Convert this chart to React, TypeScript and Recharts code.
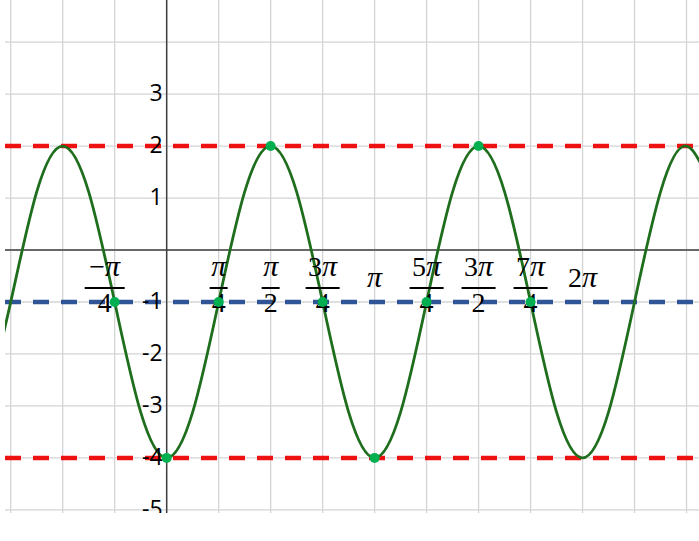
import React from "react";
import { ComposedChart, Line, Scatter, XAxis, YAxis } from "recharts";

// x values are in units of π/4
const xTicks = [-3, -2, -1, 0, 1, 2, 3, 4, 5, 6, 7, 8, 9, 10];
const yTicks = [-5, -4, -3, -2, -1, 0, 1, 2, 3, 4];

const curveK = [-3.5, -3, -2.5, -2, -1.5, -1, -0.5, 0, 0.5, 1, 1.5, 2, 2.5, 3, 3.5, 4, 4.5, 5, 5.5, 6, 6.5, 7, 7.5, 8, 8.5, 9, 9.5, 10, 10.5];
const curveY = [-3.12, -1, 1.12, 2, 1.12, -1, -3.12, -4, -3.12, -1, 1.12, 2, 1.12, -1, -3.12, -4, -3.12, -1, 1.12, 2, 1.12, -1, -3.12, -4, -3.12, -1, 1.12, 2, 1.12];

const pointK = [-1, 0, 1, 2, 3, 4, 5, 6, 7];
const pointY = [-1, -4, -1, 2, -1, -4, -1, 2, -1];

const yLabelValues = [3, 2, 1, -1, -2, -3, -4, -5];

const xLabelK = [-1, 1, 2, 3, 4, 5, 6, 7, 8];
const xLabelNum = ["−π", "π", "π", "3π", "π", "5π", "3π", "7π", "2π"];
const xLabelDen = ["4", "4", "2", "4", "", "4", "2", "4", ""];

const maxLine = 2;
const minLine = -4;
const midLine = -1;
const xDomain = [-3.11, 10.24];
const yDomain = [-5.06, 4.81];

const curveData = curveK.map((k, i) => ({ k, y: curveY[i] }));
const pointData = pointK.map((k, i) => ({ k, y: pointY[i] }));
const yLabelData = yLabelValues.map((v) => ({ k: 0, y: v, label: String(v) }));
const xLabelData = xLabelK.map((k, i) => ({ k, y: 0, num: xLabelNum[i], den: xLabelDen[i] }));
const hLine = (v: number) => xDomain.map((k) => ({ k, y: v }));
const vLine = (k: number) => yDomain.map((y) => ({ k, y }));

const serif = "'Liberation Serif', 'DejaVu Serif', serif";
const sans = "'Open Sans', 'Liberation Sans', sans-serif";

const renderPiText = (s: string, x: number, y: number) => {
  const parts = s.split("π");
  return (
    <text x={x} y={y} textAnchor="middle" fontFamily={serif} fontSize={28} fill="#000">
      {parts[0]}
      <tspan fontStyle="italic" fontSize={30}>π</tspan>
    </text>
  );
};

const XFracLabel = (props: any) => {
  const { cx, cy, payload } = props;
  if (cx == null || cy == null) return null;
  const shift = payload.num.startsWith("−") ? -10 : 0;
  const x = cx + shift;
  if (!payload.den) {
    return <g>{renderPiText(payload.num, x, cy + 37)}</g>;
  }
  const n = payload.num.length;
  const w = 16 * n + 2 + (payload.num.startsWith("−") ? 6 : 0);
  return (
    <g>
      {renderPiText(payload.num, x, cy + 26)}
      <line x1={x - w / 2} x2={x + w / 2} y1={cy + 38} y2={cy + 38} stroke="#000" strokeWidth={2} />
      <text x={x} y={cy + 62} textAnchor="middle" fontFamily={serif} fontSize={28} fill="#000">
        {payload.den}
      </text>
    </g>
  );
};

const YLabel = (props: any) => {
  const { cx, cy, payload } = props;
  if (cx == null || cy == null) return null;
  return (
    <text x={cx - 4} y={cy - 2} textAnchor="end" dominantBaseline="central" fontFamily={sans} fontSize={23} fill="#000">
      {payload.label}
    </text>
  );
};

const GreenDot = (props: any) => {
  const { cx, cy } = props;
  if (cx == null || cy == null) return null;
  return <circle cx={cx} cy={cy} r={5} fill="#00B050" />;
};

export default function App() {
  return (
    <div style={{ position: "absolute", left: 0, top: 0, width: 699, height: 541, background: "#fff" }}>
      <ComposedChart width={699} height={541} margin={{ top: 0, right: 0, bottom: 28, left: 5 }}>
        <XAxis
          type="number"
          dataKey="k"
          domain={xDomain}
          ticks={xTicks}
          allowDataOverflow
          tick={false}
          tickLine={false}
          axisLine={false}
          height={0}
        />
        <YAxis
          type="number"
          dataKey="y"
          domain={yDomain}
          ticks={yTicks}
          allowDataOverflow
          tick={false}
          tickLine={false}
          axisLine={false}
          width={0}
        />
        {xTicks.map((k) => (
          <Line key={"gv" + k} data={vLine(k)} dataKey="y" stroke="#D4D4D4" strokeWidth={1.3} dot={false} isAnimationActive={false} />
        ))}
        {yTicks.map((v) => (
          <Line key={"gh" + v} data={hLine(v)} dataKey="y" stroke="#D4D4D4" strokeWidth={1.3} dot={false} isAnimationActive={false} />
        ))}
        <Line data={hLine(0)} dataKey="y" stroke="#404040" strokeWidth={1.5} dot={false} isAnimationActive={false} />
        <Line data={vLine(0)} dataKey="y" stroke="#404040" strokeWidth={1.5} dot={false} isAnimationActive={false} />
        <Scatter data={yLabelData} dataKey="y" shape={YLabel} isAnimationActive={false} />
        <Scatter data={xLabelData} dataKey="y" shape={XFracLabel} isAnimationActive={false} />
        <Line data={hLine(maxLine)} dataKey="y" stroke="#EE1111" strokeWidth={4.5} strokeDasharray="16 12" dot={false} isAnimationActive={false} />
        <Line data={hLine(minLine)} dataKey="y" stroke="#EE1111" strokeWidth={4.5} strokeDasharray="16 12" dot={false} isAnimationActive={false} />
        <Line data={hLine(midLine)} dataKey="y" stroke="#2F5597" strokeWidth={4.5} strokeDasharray="16 12" dot={false} isAnimationActive={false} />
        <Line data={curveData} dataKey="y" type="natural" stroke="#1E6E1E" strokeWidth={2.8} dot={false} isAnimationActive={false} />
        <Scatter data={pointData} dataKey="y" shape={GreenDot} isAnimationActive={false} />
      </ComposedChart>
    </div>
  );
}
